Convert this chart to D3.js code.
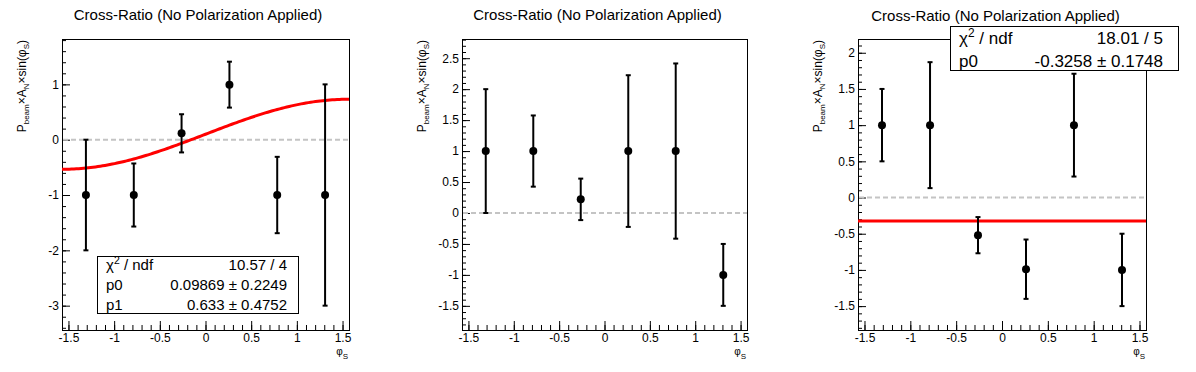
<!DOCTYPE html>
<html>
<head>
<meta charset="utf-8">
<script src="https://cdn.jsdelivr.net/npm/d3@7"></script>
<style>
  body { margin: 0; background: #fff; }
  svg text { font-family: "Liberation Sans", Arial, Helvetica, sans-serif; fill: #000; }
</style>
</head>
<body>
<svg id="chart" width="1196" height="372"></svg>
<script>
// bin centres in phi_S (6 bins over -pi/2 .. pi/2)
const phiS = [-1.309, -0.785, -0.262, 0.262, 0.785, 1.309];

// left panel
const asym1 = [-1, -1, 0.115, 0.995, -1, -1];
const err1 = [1, 0.57, 0.345, 0.415, 0.69, 2];
const fitPars1 = [0.09869, 0.633];          // p0 + p1*sin(phi_S)
const statNames1 = ["χ", "p0", "p1"];
const statValues1 = ["10.57 / 4", "0.09869 ± 0.2249", "0.633 ± 0.4752"];

// middle panel (no fit)
const asym2 = [1, 1, 0.22, 1, 1, -1];
const err2 = [1, 0.575, 0.335, 1.225, 1.415, 0.5];

// right panel
const asym3 = [1, 1, -0.52, -0.99, 1, -1];
const err3 = [0.5, 0.87, 0.25, 0.41, 0.71, 0.5];
const fitPars3 = [-0.3258];                  // constant p0
const statNames3 = ["χ", "p0"];
const statValues3 = ["18.01 / 5", "-0.3258 ± 0.1748"];

// tick labels
const xTicks = [-1.5, -1, -0.5, 0, 0.5, 1, 1.5];
const yTicks1 = [-3, -2, -1, 0, 1];
const yTicks2 = [-1.5, -1, -0.5, 0, 0.5, 1, 1.5, 2, 2.5];
const yTicks3 = [-1.5, -1, -0.5, 0, 0.5, 1, 1.5, 2];

const title = "Cross-Ratio (No Polarization Applied)";

const svg = d3.select("#chart");
svg.append("rect").attr("width", 1196).attr("height", 372).attr("fill", "#fff");

// layout of each pad
const panels = [
  { left: 62, right: 349, top: 39, bottom: 330, yDomain: [-3.44, 1.82], yTicks: yTicks1, yMinor: 0.2,
    values: asym1, errors: err1, fit: fitPars1, titleX: 198, titleY: 19.5,
    stat: { x: 97, y: 256, w: 201, h: 57, font: 15, padL: 9, padR: 11, rows: [270, 290, 309.5] },
    statNames: statNames1, statValues: statValues1 },
  { left: 462, right: 747, top: 39, bottom: 330, yDomain: [-1.89, 2.81], yTicks: yTicks2, yMinor: 0.1,
    values: asym2, errors: err2, fit: null, titleX: 597.5, titleY: 19.5 },
  { left: 858, right: 1146, top: 39, bottom: 330, yDomain: [-1.83, 2.19], yTicks: yTicks3, yMinor: 0.1,
    values: asym3, errors: err3, fit: fitPars3, titleX: 995.5, titleY: 20.5,
    stat: { x: 950, y: 26, w: 228, h: 44, font: 17, padL: 9, padR: 15, rows: [43.7, 67] },
    statNames: statNames3, statValues: statValues3 }
];

function minorTicks(domain, step) {
  const lo = Math.ceil(domain[0] / step - 1e-9), hi = Math.floor(domain[1] / step + 1e-9);
  return d3.range(lo, hi + 1).map(i => +(i * step).toFixed(4));
}

function drawPanel(p, idx) {
  const g = svg.append("g").attr("id", "pad" + (idx + 1));

  const x = d3.scaleLinear().domain([-Math.PI / 2, Math.PI / 2]).range([p.left, p.right]);
  const y = d3.scaleLinear().domain(p.yDomain).range([p.bottom, p.top]);

  // frame
  g.append("rect")
    .attr("x", p.left + 0.5).attr("y", p.top + 0.5)
    .attr("width", p.right - p.left).attr("height", p.bottom - p.top)
    .attr("fill", "#fff").attr("stroke", "#000").attr("stroke-width", 1);

  // minor ticks (inward)
  g.append("g")
    .attr("transform", "translate(0," + p.bottom + ")")
    .call(d3.axisBottom(x).tickValues(minorTicks(x.domain(), 0.1)).tickSizeInner(-5).tickSizeOuter(0).tickFormat(""))
    .call(a => a.select(".domain").remove());
  g.append("g")
    .attr("transform", "translate(" + p.left + ",0)")
    .call(d3.axisLeft(y).tickValues(minorTicks(p.yDomain, p.yMinor)).tickSizeInner(-4).tickSizeOuter(0).tickFormat(""))
    .call(a => a.select(".domain").remove());

  // major ticks + labels
  const xa = g.append("g")
    .attr("transform", "translate(0," + p.bottom + ")")
    .call(d3.axisBottom(x).tickValues(xTicks).tickSizeInner(-9).tickSizeOuter(0).tickPadding(3).tickFormat(d => String(d)));
  const ya = g.append("g")
    .attr("transform", "translate(" + p.left + ",0)")
    .call(d3.axisLeft(y).tickValues(p.yTicks).tickSizeInner(-8).tickSizeOuter(0).tickPadding(3).tickFormat(d => String(d)));
  [xa, ya].forEach(a => {
    a.select(".domain").remove();
    a.attr("font-family", null).attr("font-size", 12);
    a.selectAll("text").attr("fill", "#000");
  });
  g.selectAll(".tick line").attr("stroke", "#000");

  // zero line
  g.append("line")
    .attr("x1", p.left + 1).attr("x2", p.right)
    .attr("y1", y(0)).attr("y2", y(0))
    .attr("stroke", "#c4c4c4").attr("stroke-width", 2).attr("stroke-dasharray", "5,3");

  // fit function
  if (p.fit) {
    const phis = d3.range(0, 121).map(i => -Math.PI / 2 + i * Math.PI / 120);
    const f = p.fit.length > 1 ? (t => p.fit[0] + p.fit[1] * Math.sin(t)) : (() => p.fit[0]);
    g.append("path")
      .datum(phis)
      .attr("d", d3.line().x(t => x(t)).y(t => y(f(t))))
      .attr("fill", "none").attr("stroke", "#ff0000").attr("stroke-width", 3);
  }

  // data points with error bars
  const pts = g.append("g").selectAll("g").data(phiS.map((v, i) => ({ phi: v, a: p.values[i], e: p.errors[i] })))
    .join("g");
  pts.append("line")
    .attr("x1", d => x(d.phi)).attr("x2", d => x(d.phi))
    .attr("y1", d => y(d.a - d.e)).attr("y2", d => y(d.a + d.e))
    .attr("stroke", "#000").attr("stroke-width", 2);
  [-1, 1].forEach(s => {
    pts.append("line")
      .attr("x1", d => x(d.phi) - 2.5).attr("x2", d => x(d.phi) + 2.5)
      .attr("y1", d => y(d.a + s * d.e)).attr("y2", d => y(d.a + s * d.e))
      .attr("stroke", "#000").attr("stroke-width", 2);
  });
  pts.append("circle")
    .attr("cx", d => x(d.phi)).attr("cy", d => y(d.a)).attr("r", 4).attr("fill", "#000");

  // title
  svg.append("text")
    .attr("x", p.titleX).attr("y", p.titleY)
    .attr("text-anchor", "middle").attr("font-size", 15)
    .text(title);

  // y axis title
  const yt = svg.append("text")
    .attr("transform", "translate(" + (p.left - 36) + "," + (p.top + 1) + ") rotate(-90)")
    .attr("text-anchor", "end").attr("font-size", 12);
  yt.append("tspan").text("P");
  yt.append("tspan").attr("font-size", 8).attr("dy", 3).text("beam");
  yt.append("tspan").attr("dy", -3).text("×A");
  yt.append("tspan").attr("font-size", 8).attr("dy", 3).text("N");
  yt.append("tspan").attr("dy", -3).text("×sin(φ");
  yt.append("tspan").attr("font-size", 8).attr("dy", 3).text("S");
  yt.append("tspan").attr("dy", -3).text(")");

  // x axis title (below the last tick label)
  const xt = svg.append("text")
    .attr("x", p.right - 1).attr("y", 355)
    .attr("text-anchor", "end").attr("font-size", 10);
  xt.append("tspan").text("φ");
  xt.append("tspan").attr("font-size", 8).attr("dy", 4).text("S");

  // fit statistics box
  if (p.stat) {
    const s = p.stat;
    const box = svg.append("g");
    box.append("rect")
      .attr("x", s.x + 0.5).attr("y", s.y + 0.5).attr("width", s.w).attr("height", s.h)
      .attr("fill", "#fff").attr("stroke", "#000");
    p.statNames.forEach((n, i) => {
      const t = box.append("text").attr("x", s.x + s.padL).attr("y", s.rows[i]).attr("font-size", s.font);
      if (i === 0) {
        t.append("tspan").text(n);
        t.append("tspan").attr("font-size", s.font * 0.7).attr("dy", -s.font * 0.4).text("2");
        t.append("tspan").attr("dy", s.font * 0.4).text(" / ndf");
      } else {
        t.text(n);
      }
      box.append("text")
        .attr("x", s.x + s.w - s.padR).attr("y", s.rows[i])
        .attr("text-anchor", "end").attr("font-size", s.font)
        .text(p.statValues[i]);
    });
  }
}

panels.forEach(drawPanel);
</script>
</body>
</html>
